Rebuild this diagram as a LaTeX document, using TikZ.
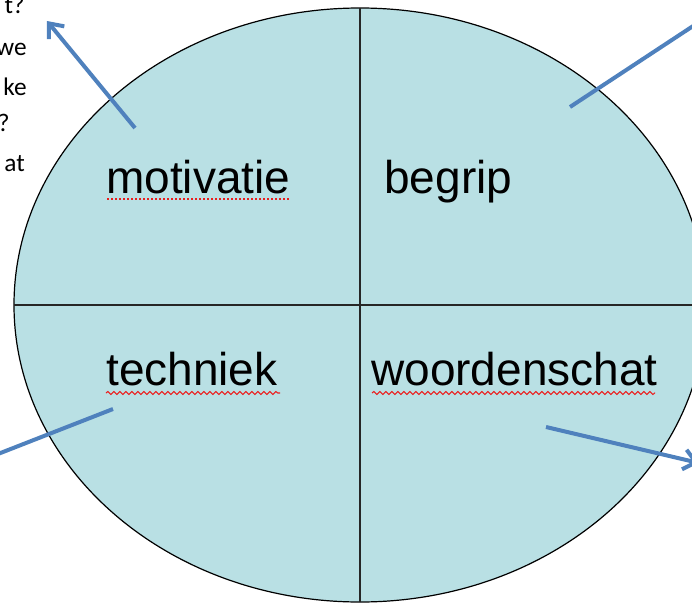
\documentclass[tikz,border=0pt]{standalone}
\usepackage{fontspec}
\setmainfont{Liberation Sans}
\newfontfamily\sidefont{Carlito}
\usetikzlibrary{arrows.meta,decorations.pathmorphing}
\definecolor{cellfill}{RGB}{185,224,228}
\definecolor{arrowblue}{RGB}{79,129,189}
\definecolor{spellred}{RGB}{235,30,30}
\begin{document}
\begin{tikzpicture}[x=0.75pt,y=-0.75pt,
  label/.style={font=\fontsize{34.5}{40}\selectfont, inner sep=0pt, anchor=base west},
  side/.style={font=\sidefont\fontsize{19}{22}\selectfont, inner sep=0pt, anchor=base east},
  pointer/.style={draw=arrowblue, line width=3pt},
  wavy/.style={draw=spellred, line width=0.8pt, decorate, decoration={snake, segment length=4.5pt, amplitude=1.1pt}},
  dots/.style={draw=spellred, line width=1pt, dash pattern=on 1.2pt off 1.8pt}]
\useasboundingbox (0,0) rectangle (692,603);
\clip (0,0) rectangle (692,603);
% ellipse and quadrants
\coordinate (c) at (360,305);
\draw[fill=cellfill, line width=0.9pt] (c) ellipse [x radius=346, y radius=297];
\coordinate (vt) at (360,8);
\coordinate (vb) at (360,602);
\coordinate (hl) at (14,305);
\coordinate (hr) at (706,305);
\draw[line width=1.5pt, black!85] (vt) -- (vb);
\draw[line width=1.5pt, black!85] (hl) -- (hr);
% labels
\node[label] (mot) at (106,193) {motivatie};
\node[label] (beg) at (384,193) {begrip};
\node[label] (tec) at (106,385) {techniek};
\node[label] (woo) at (371,385) {woordenschat};
% spelling marks
\coordinate (m1) at (107,199); \coordinate (m2) at (290,199);
\draw[dots] (m1) -- (m2);
\coordinate (t1) at (106,393); \coordinate (t2) at (280,393);
\draw[wavy] (t1) -- (t2);
\coordinate (w1) at (372,393); \coordinate (w2) at (655,393);
\draw[wavy] (w1) -- (w2);
% side text (clipped at the picture's edge, as in the source)
\node[side] (s1) at (25,13) {t?};
\node[side] (s2) at (27,55) {we};
\node[side] (s3) at (27,95) {ke};
\node[side] (s4) at (10,131) {?};
\node[side] (s5) at (25,171) {at};
% arrows
\coordinate (a1s) at (135,128); \coordinate (a1e) at (47,21);
\draw[pointer, -{Straight Barb[length=9pt, width=15pt]}] (a1s) -- (a1e);
\coordinate (a2s) at (570,107); \coordinate (a2e) at (722,7);
\draw[pointer] (a2s) -- (a2e);
\coordinate (a3s) at (113,409); \coordinate (a3e) at (-20,461);
\draw[pointer] (a3s) -- (a3e);
\coordinate (a4s) at (546,427); \coordinate (a4e) at (699,463);
\draw[pointer, -{Straight Barb[length=9pt, width=15pt]}] (a4s) -- (a4e);
\end{tikzpicture}
\end{document}
